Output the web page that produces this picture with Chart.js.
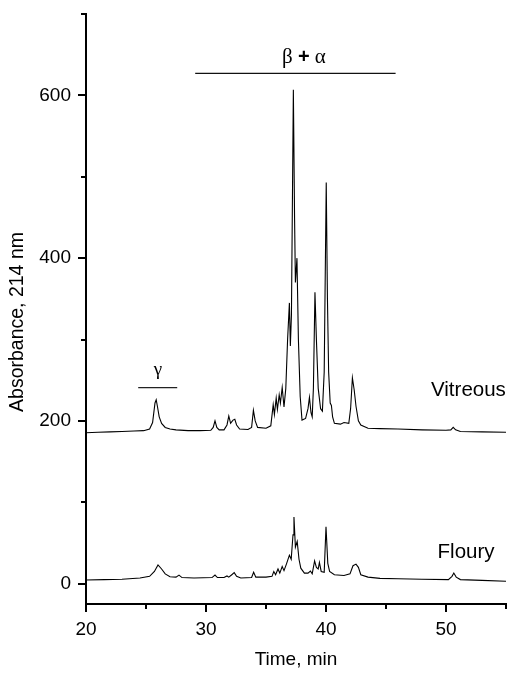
<!DOCTYPE html>
<html>
<head>
<meta charset="utf-8">
<script src="https://cdn.jsdelivr.net/npm/chart.js@4.4.0/dist/chart.umd.min.js"></script>
<style>
  html, body { margin: 0; padding: 0; background: #fff; }
</style>
</head>
<body>
<canvas id="chromChart" width="511" height="673"></canvas>
<script>
// retention time (min) / absorbance at 214 nm
const vitreousTime = [20.0, 21.0, 22.0, 23.0, 24.0, 24.8, 25.3, 25.55, 25.75, 25.85, 25.95, 26.1, 26.3, 26.6, 27.0, 27.5, 28.5, 29.5,
  30.4, 30.6, 30.75, 30.9, 31.1, 31.5, 31.75, 31.9, 32.05, 32.25, 32.4, 32.55, 32.8, 33.5, 33.8, 33.95, 34.1, 34.3, 35.0, 35.4,
  35.6, 35.7, 35.85, 35.95, 36.1, 36.2, 36.35, 36.5, 36.65, 36.8, 36.95, 37.03, 37.12, 37.28, 37.38, 37.45, 37.58, 37.7, 37.85,
  38.0, 38.3, 38.5, 38.62, 38.75, 38.85, 38.95, 39.08, 39.2, 39.35, 39.55, 39.7, 39.85, 40.02, 40.12, 40.22, 40.35, 40.45, 40.55,
  40.7, 41.2, 41.5, 41.9, 42.05, 42.2, 42.35, 42.5, 42.7, 42.9, 43.5, 44.5, 46.0, 48.0, 50.0, 50.4, 50.6, 50.8, 51.2, 53.0, 55.0];
const vitreousAbs = [185.5, 186, 186.5, 187, 187.5, 188, 190, 198, 222, 226, 218, 205, 197, 192, 190, 189, 188, 188,
  188.5, 192, 200, 192, 189, 189, 195, 206, 197, 201, 202, 195, 190, 189.5, 192, 213, 200, 192, 191, 194,
  220, 208, 228, 214, 232, 222, 241, 217, 240, 300, 345, 292, 330, 607, 450, 370, 400, 300, 230,
  201, 203, 215, 229, 210, 205, 240, 358, 300, 240, 215, 212, 260, 493, 350, 260, 222, 219, 205,
  197, 196, 198, 197, 215, 253, 238, 218, 200, 195, 191, 190.5, 190, 189, 188.5, 189, 192, 189, 187, 186.5, 186];

const flouryTime = [20.0, 21.5, 23.0, 24.5, 25.3, 25.7, 26.0, 26.3, 26.6, 27.0, 27.5, 27.75, 28.0, 29.0, 30.5, 30.75, 30.95,
  31.5, 31.75, 31.9, 32.15, 32.35, 32.55, 32.9, 33.8, 33.97, 34.15, 35.0, 35.5, 35.65, 35.8, 36.0, 36.15, 36.35, 36.5, 36.7,
  36.95, 37.1, 37.25, 37.33, 37.45, 37.6, 37.75, 37.9, 38.2, 38.5, 38.7, 38.85, 39.05, 39.2, 39.35, 39.45, 39.6, 39.85, 40.0,
  40.15, 40.3, 40.7, 41.5, 42.0, 42.25, 42.5, 42.7, 42.9, 43.5, 44.5, 46.0, 48.0, 50.2, 50.5, 50.65, 50.85, 51.2, 53.0, 55.0];
const flouryAbs = [4.5, 5, 5.5, 7, 9, 15, 23, 18, 12, 8.5, 8, 10.5, 7.5, 7, 7.5, 10.5, 7.5,
  7.5, 9.5, 8, 11, 13.5, 9, 7, 7.5, 14, 8, 8, 9, 15, 11, 18, 13, 21, 16, 24,
  35, 30, 60, 82, 45, 52, 30, 19, 13, 13, 15.5, 12, 28, 20, 18, 26, 15, 14, 70,
  25, 15, 11, 10, 12, 22, 24, 20, 11, 8, 6.5, 6, 5.5, 5, 9, 13, 8, 5, 4, 3];

const xTicks = [20, 30, 40, 50];
const xMinorTicks = [25, 35, 45, 55];
const yTicks = [0, 200, 400, 600];
const yMinorTicks = [100, 300, 500, 700];

const toPoints = (xs, ys) => xs.map((x, i) => ({ x: x, y: ys[i] }));

// tick marks: major long, minor short, pointing outwards
const tickMarks = {
    id: 'tickMarks',
    afterDraw(chart) {
        const ctx = chart.ctx;
        const xs = chart.scales.x, ys = chart.scales.y;
        const area = chart.chartArea;
        ctx.save();
        ctx.strokeStyle = '#000';
        ctx.lineWidth = 2;
        ctx.beginPath();
        xTicks.concat(xMinorTicks).forEach(v => {
            const px = Math.round(xs.getPixelForValue(v));
            const len = xTicks.includes(v) ? 8 : 5;
            ctx.moveTo(px, area.bottom);
            ctx.lineTo(px, area.bottom + len);
        });
        yTicks.concat(yMinorTicks).forEach(v => {
            const py = Math.round(ys.getPixelForValue(v));
            const len = yTicks.includes(v) ? 8 : 5;
            ctx.moveTo(area.left, py);
            ctx.lineTo(area.left - len, py);
        });
        ctx.stroke();
        ctx.restore();
    }
};

// peak group labels, trace names and the y axis title
const labels = {
    id: 'labels',
    afterDatasetsDraw(chart) {
        const ctx = chart.ctx;
        const xs = chart.scales.x, ys = chart.scales.y;
        ctx.save();
        ctx.fillStyle = '#000';
        ctx.textBaseline = 'middle';

        ctx.font = '19px "Liberation Serif"';
        ctx.textAlign = 'center';
        ctx.fillText('γ', xs.getPixelForValue(26.0), ys.getPixelForValue(263));

        // β + α, centred over the bar
        const serif = '21px "Liberation Serif"', sans = 'bold 20px "Liberation Sans"';
        ctx.textAlign = 'left';
        ctx.font = serif; const wB = ctx.measureText('β ').width; const wA = ctx.measureText(' α').width;
        ctx.font = sans; const wP = ctx.measureText('+').width;
        let x0 = xs.getPixelForValue(38.16) - (wB + wP + wA) / 2;
        const yBA = ys.getPixelForValue(647);
        ctx.font = serif; ctx.fillText('β ', x0, yBA);
        ctx.font = sans; ctx.fillText('+', x0 + wB, yBA);
        ctx.font = serif; ctx.fillText(' α', x0 + wB + wP, yBA);

        ctx.font = '20.5px "Liberation Sans"';
        ctx.fillText('Vitreous', xs.getPixelForValue(48.75), ys.getPixelForValue(238));
        ctx.fillText('Floury', xs.getPixelForValue(49.3), ys.getPixelForValue(39));

        // y axis title (sits a little below the axis centre in the original)
        ctx.translate(18, 322);
        ctx.rotate(-Math.PI / 2);
        ctx.textAlign = 'center';
        ctx.font = '19.5px "Liberation Sans"';
        ctx.fillText('Absorbance, 214 nm', 0, 0);
        ctx.restore();
    }
};

const ctx = document.getElementById('chromChart').getContext('2d');

new Chart(ctx, {
    type: 'line',
    data: {
        datasets: [
            { label: 'Vitreous', data: toPoints(vitreousTime, vitreousAbs), borderColor: '#000', borderWidth: 1.1 },
            { label: 'Floury', data: toPoints(flouryTime, flouryAbs), borderColor: '#000', borderWidth: 1.1 },
            // horizontal bars marking the gamma and beta+alpha regions
            { label: 'gamma', data: [{ x: 24.35, y: 241 }, { x: 27.6, y: 241 }], borderColor: '#222', borderWidth: 1.2 },
            { label: 'beta-alpha', data: [{ x: 29.1, y: 627 }, { x: 45.8, y: 627 }], borderColor: '#111', borderWidth: 1.2 }
        ]
    },
    options: {
        responsive: false,
        animation: false,
        elements: { point: { radius: 0 }, line: { tension: 0 } },
        layout: { padding: { top: 14, right: 5, left: 0, bottom: 0 } },
        scales: {
            x: {
                type: 'linear',
                min: 20,
                max: 55,
                afterBuildTicks: s => { s.ticks = xTicks.map(v => ({ value: v })); },
                afterFit: s => { s.height = 69; s.paddingLeft = 0; s.paddingRight = 0; },
                grid: { display: false, drawTicks: false },
                border: { display: true, color: '#000', width: 2 },
                ticks: { color: '#000', padding: 14, font: { family: 'Liberation Sans', size: 19 } },
                title: {
                    display: true, text: 'Time, min', color: '#000',
                    font: { family: 'Liberation Sans', size: 19 }, padding: { top: 0, bottom: 2 }
                }
            },
            y: {
                min: -25,
                max: 700,
                afterBuildTicks: s => { s.ticks = yTicks.map(v => ({ value: v })); },
                afterFit: s => { s.width = 86; s.paddingTop = 0; s.paddingBottom = 0; },
                grid: { display: false, drawTicks: false },
                border: { display: true, color: '#000', width: 2 },
                ticks: { color: '#000', padding: 15, font: { family: 'Liberation Sans', size: 19 } },
                title: { display: false }
            }
        },
        plugins: {
            legend: { display: false },
            tooltip: { enabled: false }
        }
    },
    plugins: [tickMarks, labels]
});
</script>
</body>
</html>
